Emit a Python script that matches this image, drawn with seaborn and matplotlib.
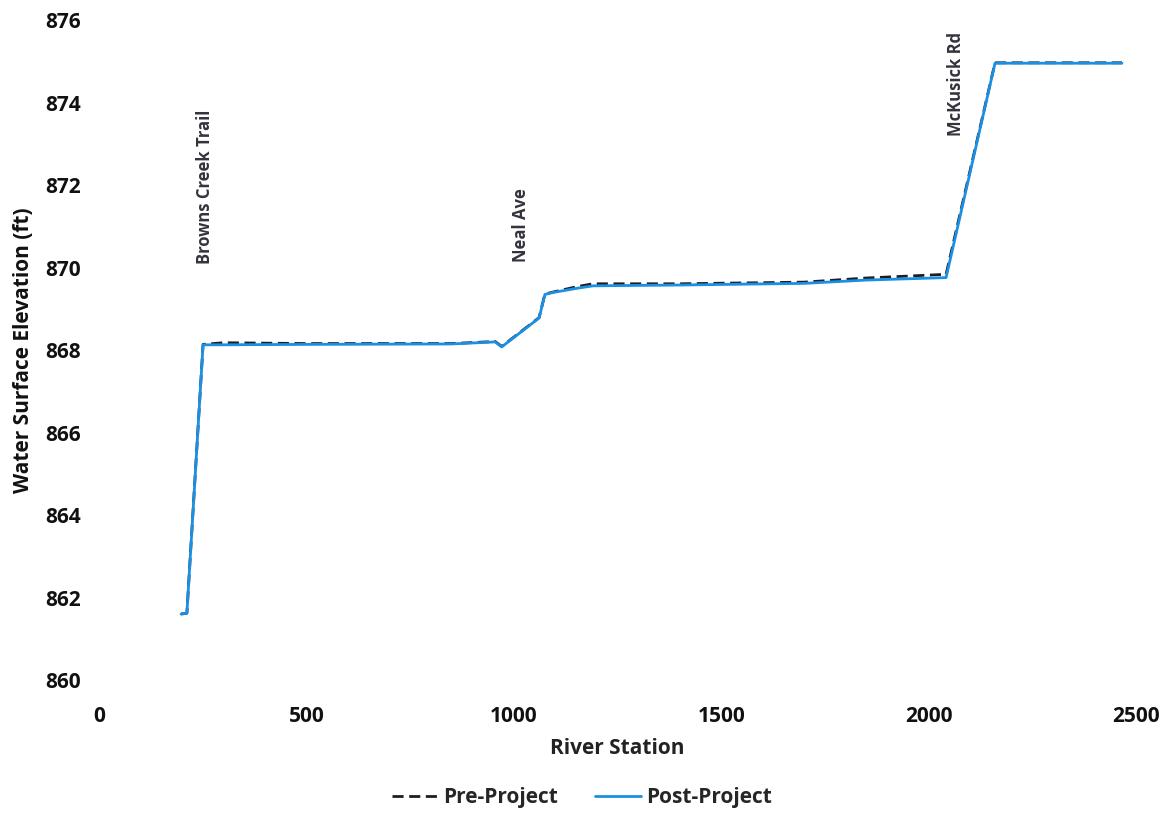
import pandas as pd
import matplotlib.pyplot as plt
import seaborn as sns

# River station vs water surface elevation
station = [198, 212, 251, 300, 500, 850, 955, 971, 1061, 1075, 1095, 1152, 1191,
           1400, 1700, 1850, 2042, 2160, 2466]
post_project = [861.60, 861.62, 868.13, 868.13, 868.14, 868.15, 868.20, 868.08, 868.78,
                869.35, 869.40, 869.50, 869.56, 869.58, 869.62, 869.70, 869.76, 874.96, 874.96]
pre_project = [861.60, 861.62, 868.14, 868.18, 868.16, 868.16, 868.21, 868.09, 868.79,
               869.36, 869.41, 869.54, 869.61, 869.61, 869.65, 869.75, 869.84, 874.97, 874.97]

# Bridge / crossing labels
crossings = ['Browns Creek Trail', 'Neal Ave', 'McKusick Rd']
crossing_station = [256, 1017, 2066]
crossing_elev = [870.1, 870.15, 873.2]

sns.set_style('white')
plt.rcParams['font.family'] = ['Open Sans', 'DejaVu Sans']
plt.rcParams['font.weight'] = 'bold'

data = pd.DataFrame({'Station': station, 'Pre': pre_project, 'Post': post_project})

fig = plt.figure(figsize=(11.64, 8.13), dpi=100)
ax = fig.add_axes([0.085, 0.1636, 0.891, 0.8114])

sns.lineplot(data=data, x='Station', y='Pre', ax=ax, color='#1e1e1e', linewidth=2.0,
             linestyle=(0, (4, 2)), label='Pre-Project', zorder=2)
sns.lineplot(data=data, x='Station', y='Post', ax=ax, color='#1a8fe3', linewidth=2.0,
             label='Post-Project', zorder=3)

for name, xs, ys in zip(crossings, crossing_station, crossing_elev):
    ax.text(xs, ys, name, rotation=90, ha='center', va='bottom',
            fontsize=12, fontweight='bold', color='#33333d')

ax.set_xlim(0, 2500)
ax.set_ylim(860, 876)
ax.set_xticks([0, 500, 1000, 1500, 2000, 2500])
ax.set_yticks(range(860, 877, 2))
ax.tick_params(axis='x', labelsize=15, pad=19, length=0, labelcolor='#111111')
ax.tick_params(axis='y', labelsize=15, pad=13, length=0, labelcolor='#111111')
for lbl in ax.get_xticklabels() + ax.get_yticklabels():
    lbl.set_fontweight('bold')
ax.set_xlabel('River Station', fontsize=15, fontweight='bold', color='#222222', labelpad=8)
ax.set_ylabel('Water Surface Elevation (ft)', fontsize=15, fontweight='bold',
              color='#111111', labelpad=8)
sns.despine(ax=ax, left=True, bottom=True)

ax.legend(loc='upper center', bbox_to_anchor=(0.466, -0.14), ncol=2, frameon=False,
          handlelength=2.2, handletextpad=0.25, columnspacing=1.8,
          borderpad=0.2, prop={'weight': 'bold', 'size': 15})

fig.savefig('out.png', dpi=100)
